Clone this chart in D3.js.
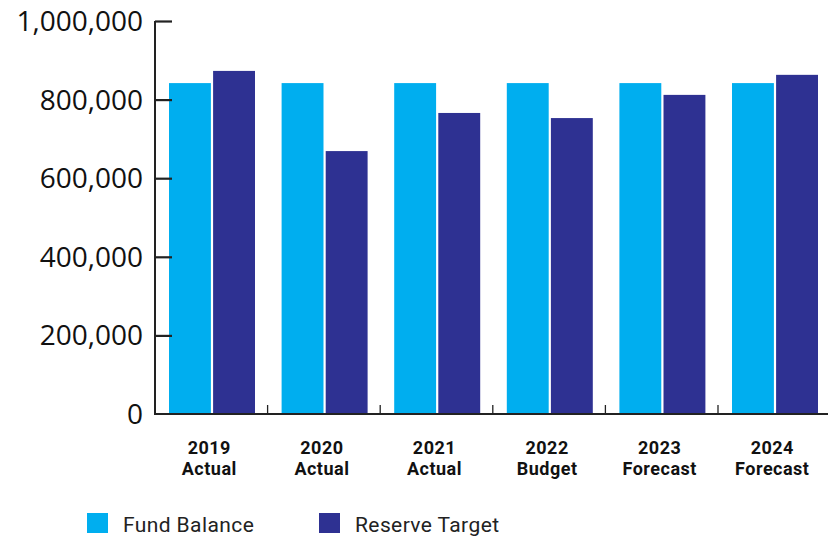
<!DOCTYPE html>
<html>
<head>
<meta charset="utf-8">
<script src="https://cdn.jsdelivr.net/npm/d3@7"></script>
<style>
  html, body { margin: 0; padding: 0; background: #fff; }
  svg { display: block; }
</style>
</head>
<body>
<svg id="chart" width="828" height="536"></svg>
<script>
// Years and their status lines
const years = ["2019", "2020", "2021", "2022", "2023", "2024"];
const statuses = ["Actual", "Actual", "Actual", "Budget", "Forecast", "Forecast"];
const seriesNames = ["Fund Balance", "Reserve Target"];
const fundBalance = [842000, 842000, 842000, 842000, 842000, 842000];
const reserveTarget = [873000, 669000, 766000, 753000, 812000, 863000];
const yTicks = [0, 200000, 400000, 600000, 800000, 1000000];
const colors = ["#00AEEF", "#2E3192"];

const svg = d3.select("#chart");
const plotLeft = 155, plotRight = 830.6, plotTop = 21, plotBottom = 414;

const x = d3.scaleBand().domain(years).range([plotLeft, plotRight]).paddingInner(0).paddingOuter(0);
const x1 = d3.scaleBand().domain(seriesNames).range([14, 100]).paddingInner(0.05);
const y = d3.scaleLinear().domain([0, 1000000]).range([plotBottom, plotTop]);

const rows = years.map((yr, i) => ({ year: yr, values: [fundBalance[i], reserveTarget[i]] }));

// Bars
const groups = svg.append("g").selectAll("g").data(rows).join("g")
  .attr("transform", d => `translate(${x(d.year)},0)`);
groups.selectAll("rect").data(d => d.values.map((v, k) => ({ v, k })))
  .join("rect")
  .attr("x", d => x1(seriesNames[d.k]))
  .attr("width", x1.bandwidth())
  .attr("y", d => y(d.v))
  .attr("height", d => plotBottom - y(d.v))
  .attr("fill", d => colors[d.k]);

// Y axis: ticks pointing into the plot
const yAxis = svg.append("g").attr("transform", `translate(${plotLeft},0)`)
  .call(d3.axisRight(y).tickValues(yTicks).tickSize(17).tickFormat(""));
yAxis.select(".domain").remove();
yAxis.selectAll(".tick line").attr("stroke", "#222").attr("stroke-width", 2.2);
yAxis.selectAll(".tick").filter(d => d === 0).remove();
svg.append("line").attr("x1", plotLeft).attr("x2", plotLeft).attr("y1", plotTop).attr("y2", plotBottom + 1)
  .attr("stroke", "#222").attr("stroke-width", 2);

// Y tick labels
svg.append("g").selectAll("text").data(yTicks).join("text")
  .attr("x", 143).attr("y", d => y(d))
  .attr("dy", "0.36em")
  .attr("text-anchor", "end")
  .attr("font-family", "'Open Sans', sans-serif")
  .attr("font-size", 28)
  .attr("fill", "#111")
  .text(d => d3.format(",")(d));

// X axis baseline with short upward ticks between groups
svg.append("line").attr("x1", plotLeft).attr("x2", 828).attr("y1", plotBottom).attr("y2", plotBottom)
  .attr("stroke", "#222").attr("stroke-width", 2);
svg.append("g").selectAll("line").data(years.slice(1)).join("line")
  .attr("x1", d => x(d)).attr("x2", d => x(d))
  .attr("y1", plotBottom).attr("y2", plotBottom - 9)
  .attr("stroke", "#222").attr("stroke-width", 1.3);

// Category labels, two lines each
const labelFont = { family: "Roboto, sans-serif", size: 18 };
const cx = d => x(d.year) + x.bandwidth() / 2 - 2;
[[d => d.year, 454], [(d, i) => statuses[i], 475]].forEach(([txt, yy]) => {
  svg.append("g").selectAll("text").data(rows).join("text")
    .attr("x", cx).attr("y", yy)
    .attr("text-anchor", "middle")
    .attr("font-family", labelFont.family)
    .attr("font-weight", "bold")
    .attr("font-size", labelFont.size)
    .attr("letter-spacing", 0.5)
    .attr("fill", "#111")
    .text(txt);
});

// Legend
const legendX = [87, 319];
const leg = svg.append("g").selectAll("g").data(seriesNames).join("g")
  .attr("transform", (d, i) => `translate(${legendX[i]},513)`);
leg.append("rect").attr("width", 21).attr("height", 20).attr("fill", (d, i) => colors[i]);
leg.append("text").attr("x", 36).attr("y", 19)
  .attr("font-family", "Roboto, sans-serif")
  .attr("font-size", 21)
  .attr("letter-spacing", 0.4)
  .attr("fill", "#222")
  .text(d => d);
</script>
</body>
</html>
